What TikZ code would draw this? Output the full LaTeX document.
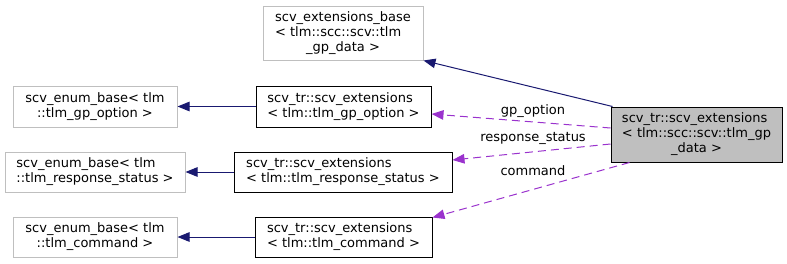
\documentclass[tikz,border=0pt]{standalone}
\usepackage{fontspec}
\setmainfont{DejaVu Sans}
\usetikzlibrary{arrows.meta}
\definecolor{edgenavy}{HTML}{191970}
\definecolor{edgeorchid}{HTML}{9A32CD}
\definecolor{boxgray}{HTML}{BFBFBF}
% lines before the last are left-justified, the last one centred
\newcommand{\lbl}[2]{\begin{tabular}{@{}l@{}}#1\multicolumn{1}{@{}c@{}}{#2}\end{tabular}}
\begin{document}
\begin{tikzpicture}[x=1pt,y=-1pt,
  font=\fontsize{13}{15}\selectfont,
  cls/.style={draw, line width=1pt, inner sep=0pt, anchor=center},
  extcls/.style={cls, draw=boxgray},
  inherit/.style={draw=edgenavy, line width=1pt, -{Triangle[length=12pt,width=9.5pt]}},
  member/.style={draw=edgeorchid, line width=1pt, dash pattern=on 8pt off 5pt, -{Triangle[length=12pt,width=9.5pt]}},
  elabel/.style={inner sep=0pt, anchor=center}]
\useasboundingbox (0,0) rectangle (787,263);

% class boxes
\node[extcls, minimum width=160pt, minimum height=54pt] (base) at (343,33)
  {\lbl{scv\_extensions\_base\\ < tlm::scc::scv::tlm\\}{\_gp\_data >}};
\node[extcls, minimum width=164pt, minimum height=41pt] (enumgp) at (95,106.5)
  {\lbl{scv\_enum\_base< tlm\\}{::tlm\_gp\_option >}};
\node[cls, minimum width=175pt, minimum height=41pt] (extgp) at (343.5,106.5)
  {\lbl{scv\_tr::scv\_extensions\\}{< tlm::tlm\_gp\_option >}};
\node[extcls, minimum width=180pt, minimum height=40pt] (enumrs) at (95,172)
  {\lbl{scv\_enum\_base< tlm\\}{::tlm\_response\_status >}};
\node[cls, minimum width=218pt, minimum height=40pt] (extrs) at (343,172)
  {\lbl{scv\_tr::scv\_extensions\\}{< tlm::tlm\_response\_status >}};
\node[extcls, minimum width=164pt, minimum height=40pt] (enumcmd) at (95,237)
  {\lbl{scv\_enum\_base< tlm\\}{::tlm\_command >}};
\node[cls, minimum width=177pt, minimum height=40pt] (extcmd) at (343.5,237)
  {\lbl{scv\_tr::scv\_extensions\\}{< tlm::tlm\_command >}};
\node[cls, fill=boxgray, minimum width=171pt, minimum height=55pt] (main) at (696.5,134.5)
  {\lbl{scv\_tr::scv\_extensions\\ < tlm::scc::scv::tlm\_gp\\}{\_data >}};

% inheritance
\draw[inherit] ([xshift=2pt]main.north west) -- (base.south east);
\draw[inherit] (extgp.west) -- (enumgp.east);
\draw[inherit] (extrs.west) -- (enumrs.east);
\draw[inherit] (extcmd.west) -- (enumcmd.east);

% usage members
\draw[member] ([yshift=6.5pt]main.west) -- ([yshift=-7.5pt]extgp.east);
\draw[member] ([yshift=-9.5pt]main.west) -- ([yshift=12pt]extrs.east);
\draw[member] ([xshift=19pt]main.south west) -- ([yshift=-1pt]extcmd.north east);

\node[elabel] (lgp) at (533,111) {gp\_option};
\node[elabel] (lrs) at (533,138) {response\_status};
\node[elabel] (lcmd) at (533,171) {command};
\end{tikzpicture}
\end{document}
